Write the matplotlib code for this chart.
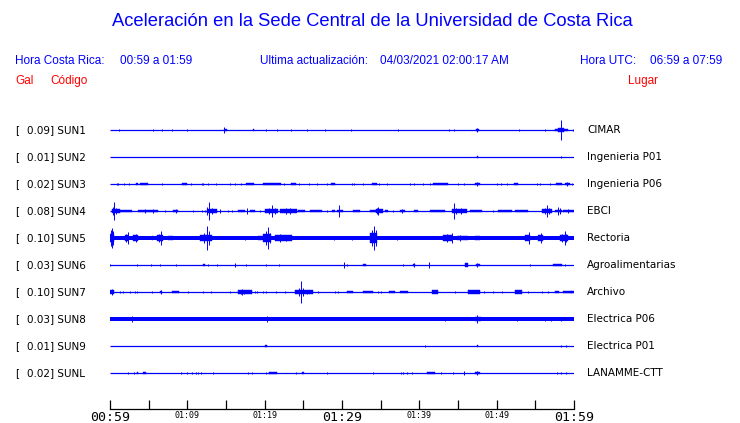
import matplotlib
matplotlib.use("Agg")
import matplotlib.pyplot as plt

# station info, top to bottom
codes = ["SUN1", "SUN2", "SUN3", "SUN4", "SUN5", "SUN6", "SUN7", "SUN8", "SUN9", "SUNL"]
gal = ["0.09", "0.01", "0.02", "0.08", "0.10", "0.03", "0.10", "0.03", "0.01", "0.02"]
places = ["CIMAR", "Ingenieria P01", "Ingenieria P06", "EBCI", "Rectoria",
          "Agroalimentarias", "Archivo", "Electrica P06", "Electrica P01", "LANAMME-CTT"]

# steady noise level of each trace (half amplitude, trace spacing = 1)
noise = [0, 0, 0, 0, 0.072, 0, 0, 0.068, 0, 0]

# bursts: (start minute, duration in minutes, half amplitude)
sun1 = [(1.1, 0, 0.025), (5.6, 0, 0.05), (6.7, 0, 0.05), (8.0, 0, 0.025), (10.0, 0, 0.05),
        (14.8, 0.3, 0.04), (14.8, 0, 0.1), (18.5, 0.15, 0.03), (20.2, 0, 0.05), (21.6, 0, 0.05),
        (23.4, 0, 0.05), (25.5, 0, 0.04), (27.8, 0, 0.025), (31.1, 0, 0.05), (37.3, 0, 0.05),
        (43.9, 0, 0.05), (44.5, 0, 0.05), (47.3, 0.4, 0.05), (47.5, 0, 0.075), (52.9, 0, 0.04),
        (56.2, 0, 0.04), (57.5, 1.7, 0.035), (57.9, 0.8, 0.07), (58.3, 0, 0.37), (59.9, 0, 0.025)]
sun2 = [(47.4, 0.25, 0.04), (58.3, 0, 0.04)]
sun3 = [(0.86, 0, 0.04), (1.08, 0, 0.04), (1.85, 0, 0.025), (2.46, 0, 0.05), (3.32, 0.26, 0.035),
        (3.88, 1.08, 0.03), (6.68, 0, 0.025), (9.35, 0.6, 0.035), (10.43, 0, 0.04), (11.85, 0, 0.04),
        (12.07, 0, 0.025), (12.71, 0, 0.04), (13.71, 0, 0.04), (15.52, 0, 0.025), (16.16, 0, 0.04),
        (16.94, 0, 0.04), (17.58, 1.04, 0.035), (19.83, 2.28, 0.04), (22.5, 0, 0.04), (23.4, 0.6, 0.035),
        (24.44, 0, 0.04), (25.73, 0, 0.025), (26.81, 0, 0.04), (28.0, 0, 0.04), (28.53, 0.56, 0.035),
        (31.33, 0, 0.04), (31.59, 0, 0.04), (32.67, 0, 0.04), (33.83, 0.65, 0.035), (34.82, 0, 0.04),
        (35.77, 0, 0.025), (38.79, 0, 0.04), (39.35, 0, 0.04), (40.51, 0, 0.025), (41.38, 0, 0.04),
        (41.81, 1.94, 0.035), (45.04, 0, 0.04), (45.82, 0, 0.04), (47.19, 0.65, 0.05), (47.5, 0, 0.08),
        (50.0, 0, 0.04), (50.56, 0, 0.04), (51.38, 0, 0.04), (52.24, 0.56, 0.035), (55.25, 0, 0.04),
        (55.64, 0, 0.04), (56.89, 0, 0.04), (57.62, 0.78, 0.035), (58.83, 0.65, 0.05), (59.1, 0, 0.07),
        (59.78, 0, 0.04)]
sun4 = [(0.22, 1.07, 0.07), (0.56, 0, 0.35), (0.4, 0, 0.15), (0.8, 0, 0.12), (1.29, 1.5, 0.04),
        (3.66, 2.6, 0.045), (4.5, 0, 0.07), (5.5, 0, 0.07), (7.11, 0, 0.04), (8.19, 0.65, 0.05),
        (8.5, 0, 0.075), (10.78, 0, 0.04), (11.85, 0, 0.04), (12.28, 0, 0.05), (12.5, 1.3, 0.08),
        (12.84, 0, 0.35), (12.6, 0, 0.15), (13.2, 0, 0.12), (14.22, 0, 0.06), (15.3, 0, 0.04),
        (15.73, 0, 0.04), (16.59, 0.87, 0.04), (17.67, 0, 0.1), (18.1, 0.65, 0.04), (19.4, 0, 0.04),
        (20.04, 1.73, 0.065), (20.99, 0, 0.22), (20.5, 0, 0.12), (21.3, 0, 0.12), (21.98, 2.16, 0.07),
        (22.7, 0, 0.11), (23.3, 0, 0.1), (24.35, 0.86, 0.035), (25.86, 1.5, 0.04), (28.0, 0, 0.04),
        (28.66, 0.43, 0.035), (29.31, 0.86, 0.04), (29.65, 0, 0.21), (31.46, 0.87, 0.035),
        (33.62, 0.86, 0.04), (34.35, 1.0, 0.08), (34.7, 0, 0.16), (34.5, 0, 0.12), (35.56, 0.43, 0.035),
        (36.64, 0, 0.04), (37.5, 0.64, 0.05), (37.8, 0, 0.075), (39.35, 0.52, 0.04), (41.38, 1.94, 0.04),
        (44.18, 1.94, 0.065), (44.52, 0, 0.3), (44.8, 0, 0.12), (45.4, 0, 0.1), (46.55, 1.5, 0.035),
        (49.57, 0, 0.04), (50.21, 1.73, 0.03), (52.37, 1.72, 0.04), (55.9, 1.2, 0.065), (56.46, 0, 0.22),
        (56.2, 0, 0.12), (56.8, 0, 0.1), (57.54, 0.86, 0.055), (57.97, 0, 0.15), (58.2, 0, 0.1),
        (58.62, 1.38, 0.04), (59.2, 0, 0.06)]
sun5 = [(0.0, 0.5, 0.14), (0.22, 0, 0.37), (0.1, 0, 0.3), (0.35, 0, 0.25), (1.94, 0.43, 0.1),
        (2.28, 0, 0.21), (2.1, 0, 0.15), (3.02, 0.64, 0.1), (3.3, 0, 0.13), (5.39, 0.21, 0.085),
        (6.03, 0.87, 0.1), (6.6, 0, 0.25), (6.3, 0, 0.15), (7.54, 0.65, 0.075), (11.64, 1.51, 0.1),
        (12.5, 0, 0.46), (12.2, 0, 0.2), (12.8, 0, 0.25), (17.46, 0, 0.06), (19.18, 0.43, 0.075),
        (19.83, 1.0, 0.14), (20.47, 0, 0.4), (20.2, 0, 0.25), (20.7, 0, 0.2), (21.34, 2.15, 0.1),
        (22.0, 0, 0.13), (22.8, 0, 0.12), (26.08, 0, 0.05), (26.94, 0, 0.05), (27.8, 0, 0.05),
        (29.0, 0, 0.06), (30.17, 0, 0.05), (31.25, 0, 0.06), (33.62, 0.86, 0.18), (34.18, 0, 0.46),
        (33.9, 0, 0.3), (34.4, 0, 0.3), (37.07, 0, 0.085), (39.65, 0, 0.05), (42.45, 0, 0.05),
        (43.1, 1.08, 0.1), (43.6, 0, 0.13), (44.18, 0, 0.2), (44.82, 1.5, 0.08), (45.3, 0, 0.1),
        (47.19, 0.65, 0.08), (50.13, 0, 0.05), (52.8, 0, 0.05), (53.66, 0.65, 0.1), (54.18, 0, 0.22),
        (55.38, 0.65, 0.1), (55.73, 0, 0.185), (58.19, 1.07, 0.1), (58.83, 0, 0.25), (58.5, 0, 0.15),
        (59.0, 0, 0.15)]
sun6 = [(0.04, 0, 0.04), (3.45, 0, 0.05), (5.3, 0, 0.04), (6.5, 0, 0.05), (8.5, 0, 0.04),
        (12.0, 0.25, 0.05), (12.7, 0, 0.04), (13.9, 0, 0.025), (16.2, 0, 0.065), (17.6, 0, 0.04),
        (20.2, 0, 0.05), (21.9, 0, 0.025), (30.2, 0, 0.11), (30.7, 0, 0.04), (32.7, 0.4, 0.05),
        (37.9, 0, 0.05), (39.2, 0.3, 0.05), (39.35, 0, 0.075), (41.2, 0, 0.11), (45.9, 0.43, 0.06),
        (47.3, 0.5, 0.05), (47.5, 0, 0.075), (54.3, 0, 0.05), (57.3, 1.1, 0.035), (58.9, 0, 0.05)]
sun7 = [(0.0, 0.56, 0.07), (0.3, 0, 0.11), (1.29, 0, 0.025), (1.72, 0, 0.04), (2.59, 0, 0.04),
        (3.23, 0, 0.04), (3.53, 0, 0.04), (5.39, 0, 0.04), (6.47, 0.3, 0.05), (6.6, 0, 0.075),
        (7.97, 0.95, 0.035), (10.04, 0, 0.025), (12.0, 0, 0.04), (13.06, 0, 0.04), (15.52, 0, 0.04),
        (16.59, 1.73, 0.065), (17.03, 0, 0.12), (16.9, 0, 0.08), (17.3, 0, 0.09), (18.75, 0, 0.04),
        (19.05, 0, 0.05), (19.83, 0, 0.05), (20.17, 0, 0.04), (21.46, 0, 0.04), (22.63, 0, 0.025),
        (23.92, 2.37, 0.06), (24.7, 0, 0.41), (24.4, 0, 0.15), (25.0, 0, 0.15), (25.5, 0, 0.08),
        (26.94, 0, 0.04), (29.09, 0, 0.04), (29.52, 0, 0.04), (30.6, 0.86, 0.04), (32.67, 1.29, 0.04),
        (34.61, 0, 0.04), (35.04, 0, 0.04), (36.12, 0.73, 0.04), (37.5, 1.07, 0.04), (41.59, 0.78, 0.06),
        (44.61, 0, 0.025), (46.33, 1.51, 0.06), (48.4, 0, 0.04), (49.57, 0, 0.04), (50.64, 0, 0.04),
        (52.37, 0.86, 0.06), (54.0, 0, 0.04), (55.81, 0, 0.04), (56.68, 0, 0.05), (57.54, 0.52, 0.04),
        (58.62, 1.07, 0.035), (59.6, 0.4, 0.04)]
sun8 = [(2.8, 0, 0.1), (20.3, 0, 0.11), (43.3, 0, 0.085), (47.2, 0.77, 0.09), (47.5, 0, 0.16),
        (52.6, 0, 0.085), (56.2, 0, 0.075), (57.0, 0, 0.075), (58.3, 0, 0.085)]
sun9 = [(20.1, 0.26, 0.025), (40.73, 0, 0.025), (47.4, 0.25, 0.04), (58.31, 0, 0.04), (58.92, 0, 0.04)]
sunl = [(2.37, 0, 0.025), (3.15, 0, 0.05), (3.45, 0.13, 0.045), (4.31, 0.3, 0.045), (9.14, 0, 0.04),
        (10.0, 0, 0.025), (10.56, 0, 0.04), (11.08, 0, 0.025), (11.42, 0, 0.04), (11.72, 0, 0.04),
        (13.36, 0, 0.04), (17.89, 0, 0.025), (18.32, 0, 0.025), (20.17, 0, 0.05), (20.6, 0.95, 0.04),
        (24.0, 0, 0.025), (24.87, 0.26, 0.05), (28.02, 0, 0.025), (34.05, 0, 0.025), (37.58, 0, 0.05),
        (37.93, 0, 0.025), (38.36, 0, 0.025), (39.09, 0, 0.025), (40.95, 1.07, 0.04), (42.76, 0, 0.05),
        (44.39, 0, 0.04), (45.82, 0, 0.06), (47.19, 0.65, 0.055), (47.5, 0, 0.085), (57.75, 0, 0.04),
        (58.31, 0, 0.05), (58.92, 0, 0.05)]
events = [sun1, sun2, sun3, sun4, sun5, sun6, sun7, sun8, sun9, sunl]

tick_min = list(range(0, 61, 5))
tick_lab = ["00:59", "", "01:09", "", "01:19", "", "01:29", "", "01:39", "", "01:49", "", "01:59"]
big_labels = ["00:59", "01:29", "01:59"]

W, H = 740, 423
fig = plt.figure(figsize=(W / 100, H / 100), dpi=100)
blue = "#0000ff"
red = "#ff0000"

# traces axes: 110..574 px wide, axis line at y=409 px, first trace at y=130 px
ax = fig.add_axes([110 / W, (H - 409) / H, 464 / W, (409 - 116) / H])
ax.set_xlim(0, 60)
ax.set_ylim(-(409 - 130) / 27, (130 - 116) / 27)

for i, ev in enumerate(events):
    y = -i
    ax.hlines(y, 0, 60, color=blue, lw=0.9)
    if noise[i] > 0:
        ax.bar(0, 2 * noise[i], width=60, bottom=y - noise[i], align="edge",
               color=blue, linewidth=0)
    for t, w, a in ev:
        ax.bar(t, 2 * a, width=w, bottom=y - a, align="edge", color=blue,
               edgecolor=blue, linewidth=0.7 if w == 0 else 0.3)
    fig.text(15 / W, 1 - (130 + 27 * i) / H, "[", fontsize=7.5, va="center", color="black")
    fig.text(27 / W, 1 - (130 + 27 * i) / H, gal[i] + "] " + codes[i], fontsize=7.5,
             va="center", color="black")
    fig.text(587 / W, 1 - (130 + 27 * i) / H, places[i], fontsize=7.5, va="center",
             color="black")

for s in ["top", "left", "right"]:
    ax.spines[s].set_visible(False)
ax.spines["bottom"].set_linewidth(0.9)
ax.set_yticks([])
ax.set_xticks(tick_min)
ax.set_xticklabels(tick_lab, family="DejaVu Sans Mono")
ax.tick_params(axis="x", direction="in", length=6.5, width=0.9, pad=1.5)
for lab in ax.get_xticklabels():
    lab.set_fontsize(9.5 if lab.get_text() in big_labels else 6)

hdr = dict(family="Liberation Sans", color=blue, fontsize=8.5, va="center")
fig.text(372 / W, 1 - 22 / H, "Aceleración en la Sede Central de la Universidad de Costa Rica",
         family="Liberation Sans", color=blue, fontsize=13.2, ha="center", va="center")
fig.text(15 / W, 1 - 61 / H, "Hora Costa Rica:", **hdr)
fig.text(120 / W, 1 - 61 / H, "00:59 a 01:59", **hdr)
fig.text(260 / W, 1 - 61 / H, "Ultima actualización:", **hdr)
fig.text(380 / W, 1 - 61 / H, "04/03/2021 02:00:17 AM", **hdr)
fig.text(580 / W, 1 - 61 / H, "Hora UTC:", **hdr)
fig.text(650 / W, 1 - 61 / H, "06:59 a 07:59", **hdr)
lbl = dict(family="Liberation Sans", color=red, fontsize=8.5, va="center")
fig.text(15 / W, 1 - 81 / H, "Gal", **lbl)
fig.text(50 / W, 1 - 81 / H, "Código", **lbl)
fig.text(628 / W, 1 - 81 / H, "Lugar", **lbl)

fig.savefig("out.png", dpi=100)
